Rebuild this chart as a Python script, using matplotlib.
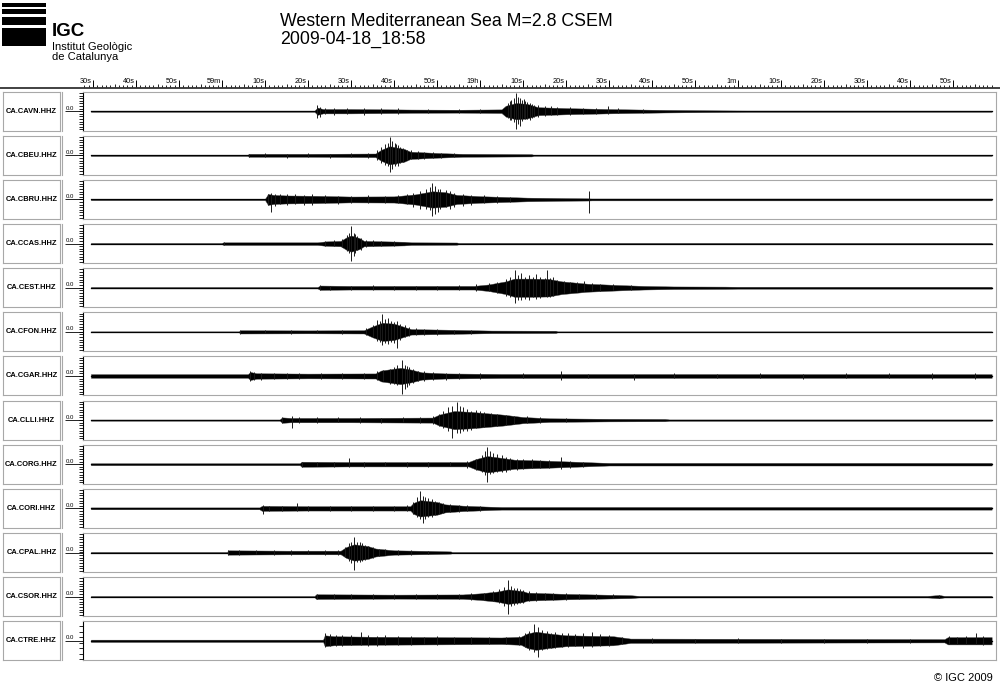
import matplotlib
matplotlib.use("Agg")
import matplotlib.pyplot as plt
from matplotlib.patches import Rectangle
from matplotlib.lines import Line2D
import numpy as np

plt.rcParams['font.family'] = ['Liberation Sans', 'DejaVu Sans']

# time in seconds after 18:58:00
title = "Western Mediterranean Sea M=2.8 CSEM"
subtitle = "2009-04-18_18:58"
tick_times = list(range(30, 231, 10))
tick_labels = ['30s', '40s', '50s', '59m', '10s', '20s', '30s', '40s', '50s', '19h',
               '10s', '20s', '30s', '40s', '50s', '1m', '10s', '20s', '30s', '40s', '50s']

stations = ['CA.CAVN.HHZ', 'CA.CBEU.HHZ', 'CA.CBRU.HHZ', 'CA.CCAS.HHZ', 'CA.CEST.HHZ',
            'CA.CFON.HHZ', 'CA.CGAR.HHZ', 'CA.CLLI.HHZ', 'CA.CORG.HHZ', 'CA.CORI.HHZ',
            'CA.CPAL.HHZ', 'CA.CSOR.HHZ', 'CA.CTRE.HHZ']

# envelope (time, relative amplitude)
env_cavn = [(29.5, .03), (81.5, .03), (82.2, .2), (83.5, .12), (90, .12), (100, .1), (104, .09),
            (115, .08), (125, .1), (126, .3), (128.4, .45), (131, .4), (133.5, .22), (140, .17),
            (149.7, .12), (155, .1), (163, .07), (172, .05), (182, .035), (239, .03)]
env_cbeu = [(29.5, .03), (66, .03), (66.2, .08), (80, .08), (95.7, .1), (97, .3), (99, .5),
            (102.4, .35), (103.8, .2), (110, .13), (116, .08), (132, .06), (132.5, .025), (239, .025)]
env_cbru = [(29.5, .035), (70, .035), (70.7, .3), (72, .25), (75, .22), (82, .2), (90, .16),
            (100, .17), (105, .28), (108.9, .45), (112, .4), (114.6, .25), (120, .18), (131, .1),
            (140, .07), (145, .06), (146, .05), (239, .05)]
env_ccas = [(29.5, .03), (59.9, .03), (60.3, .07), (82.2, .07), (84, .12), (87.6, .15), (89, .35),
            (90, .45), (92, .3), (93, .15), (102.4, .1), (104, .07), (114.6, .06), (115, .035), (239, .035)]
env_cest = [(29.5, .035), (82.2, .035), (82.8, .12), (90, .1), (118.6, .1), (122, .18), (126, .35),
            (128, .5), (132, .5), (136, .48), (139, .35), (145, .22), (152, .15), (158, .1),
            (165, .07), (177, .06), (180, .05), (239, .05)]
env_cfon = [(29.5, .025), (63.9, .025), (64.3, .09), (80, .08), (93, .09), (95, .3), (97.3, .5),
            (100, .45), (102, .3), (104, .15), (112, .12), (122.7, .07), (137.6, .06), (138, .025), (239, .025)]
env_cgar = [(29.5, .1), (66, .1), (66.6, .22), (68, .15), (80, .13), (95.7, .14), (97, .3),
            (101.5, .45), (104, .35), (106.5, .2), (112, .14), (125, .11), (239, .1)]
env_clli = [(29.5, .03), (73.4, .03), (74, .15), (76, .12), (90, .12), (109, .14), (110.5, .3),
            (114, .5), (118, .45), (125.4, .3), (130, .17), (136.2, .1), (150, .07), (163, .06),
            (164, .035), (239, .035)]
env_corg = [(29.5, .05), (78.1, .05), (78.5, .14), (90, .12), (117.3, .12), (119, .28), (121.7, .45),
            (125, .35), (128, .25), (135, .2), (144.3, .12), (150, .07), (239, .07)]
env_cori = [(29.5, .05), (68.7, .05), (69.3, .14), (80, .12), (103.8, .12), (104.5, .3), (106.1, .45),
            (110, .35), (111.9, .22), (116, .15), (121.4, .1), (125, .07), (239, .07)]
env_cpal = [(29.5, .025), (61.2, .025), (61.4, .12), (75, .1), (87.6, .1), (88.9, .3), (90.7, .45),
            (94, .35), (95.7, .22), (100, .12), (108, .09), (113.2, .06), (113.5, .025), (239, .025)]
env_csor = [(29.5, .03), (81.5, .03), (81.9, .13), (100, .11), (116, .12), (120, .18), (124, .28),
            (126.5, .4), (130, .3), (131, .22), (140, .15), (155, .08), (157, .04), (224, .04),
            (226.8, .09), (228, .04), (239, .04)]
env_ctre = [(29.5, .06), (83.5, .06), (83.9, .3), (86, .25), (95, .22), (110, .2), (125, .18),
            (129.5, .22), (131, .4), (133, .5), (136, .4), (140, .3), (151, .25), (155, .12),
            (200, .1), (228, .09), (228.8, .2), (239, .2)]

# visible peaks (time, top, bottom)
spk_cavn = [(82.2, .35, .35), (82.8, .25, .3), (84, .2, .15), (86, .18, .2), (89, .2, .15), (93, .15, .2),
            (97, .18, .15), (101, .15, .15), (108, .12, .12), (115, .12, .1), (120, .13, .12),
            (126.5, .45, .4), (127, .55, .5), (127.3, .6, .5), (127.8, .7, .6), (128.4, 1.0, .96),
            (128.9, .8, .7), (129.2, .7, .8), (129.7, .6, .55), (130.2, .65, .4), (130.5, .55, .45),
            (131, .5, .45), (131.6, .45, .5), (132, .4, .35), (132.5, .35, .3), (133.5, .35, .3),
            (135, .3, .25), (136.5, .3, .2), (138, .25, .2), (141, .22, .2), (144, .2, .15),
            (147, .18, .15), (149.7, .3, .15), (152, .15, .12), (158, .12, .1)]
spk_cbeu = [(66.2, .1, .1), (70, .12, .1), (75, .1, .12), (80, .12, .1), (85, .1, .12), (90, .12, .1),
            (94, .15, .12), (96, .3, .25), (97, .45, .4), (97.8, .6, .55), (98.5, .7, .6), (99, .98, .91),
            (99.6, .8, .75), (100.2, .65, .6), (100.5, .6, .5), (101, .55, .6), (101.5, .45, .4),
            (102.2, .4, .35), (103, .3, .25), (104, .3, .2), (105.5, .25, .2), (107, .2, .2),
            (109, .2, .15), (111, .15, .15), (114, .12, .1)]
spk_cbru = [(70.7, .3, .3), (71.5, .34, .68), (72.3, .3, .35), (73.5, .3, .25), (75, .28, .3),
            (77, .3, .25), (79, .25, .3), (81, .3, .28), (84, .25, .2), (87, .2, .25), (90, .2, .2),
            (94, .22, .18), (98, .2, .2), (101, .25, .2), (103, .3, .25), (104.5, .35, .4), (106, .45, .5),
            (107.5, .6, .55), (108.3, .7, .6), (108.9, .92, .93), (109.5, .75, .8), (110.2, .6, .7),
            (110.8, .55, .5), (112, .5, .4), (113, .45, .5), (114, .35, .4), (116, .3, .35),
            (118, .25, .3), (121, .25, .2), (124, .2, .18), (127, .15, .15), (145.3, .49, .76)]
spk_ccas = [(60.5, .08, .08), (84, .15, .12), (86, .18, .15), (88, .25, .2), (89, .45, .4), (89.5, .6, .5),
            (90, .97, .95), (90.6, .6, .7), (91, .5, .5), (91.5, .4, .35), (92.3, .3, .35),
            (93.5, .2, .2), (95, .18, .15), (97, .15, .15), (100, .12, .12)]
spk_cest = [(82.8, .13, .12), (85, .12, .15), (90, .12, .1), (95, .13, .1), (100, .1, .12), (105, .12, .1),
            (110, .12, .12), (115, .13, .12), (119, .18, .2), (122, .25, .2), (124, .3, .3), (126, .5, .45),
            (127, .6, .5), (128.1, .95, .85), (128.8, .7, .65), (129.5, .8, .7), (130.5, .6, .6),
            (131.5, .7, .68), (132.3, .6, .5), (133, .75, .6), (134, .6, .55), (135, .55, .45),
            (135.5, .95, .5), (136.3, .55, .5), (137, .6, .45), (138, .45, .35), (139.5, .35, .3),
            (141, .3, .25), (142.5, .3, .25), (144.3, .37, .2), (146, .25, .2), (148, .22, .2),
            (151, .2, .15), (155, .15, .12)]
spk_cfon = [(64.3, .1, .1), (70, .1, .08), (76, .1, .1), (82, .1, .08), (88, .1, .1), (93.5, .2, .15),
            (95, .35, .3), (96, .65, .5), (96.7, .6, .55), (97.3, .96, .7), (98, .7, .6), (98.5, .75, .65),
            (99.3, .6, .55), (100, .55, .6), (100.6, .6, .88), (101.5, .45, .45), (102.5, .35, .3),
            (103.5, .25, .25), (105, .2, .2), (107, .18, .15), (110, .15, .15), (114, .12, .12), (118, .1, .1)]
spk_cgar = [(66.6, .26, .26), (67.5, .2, .22), (69, .18, .2), (72, .18, .15), (75, .16, .18), (78, .15, .17),
            (83, .17, .15), (88, .16, .15), (93, .17, .15), (96, .25, .2), (97.5, .35, .3), (99, .4, .45),
            (100, .5, .45), (100.8, .6, .5), (101.8, .86, 1.0), (102.5, .6, .7), (103, .55, .6),
            (103.5, .5, .5), (104.5, .4, .4), (105.5, .3, .3), (107, .25, .25), (109, .2, .2),
            (112, .18, .2), (115, .18, .15), (120, .15, .15), (130, .14, .13), (138.9, .25, .2),
            (145, .13, .12), (155.8, .13, .22), (165, .14, .12), (175, .13, .13), (185, .15, .12),
            (195, .13, .14), (205, .14, .12), (215, .15, .13), (225, .14, .14), (235, .15, .15)]
spk_clli = [(74, .18, .15), (76.3, .2, .45), (78, .18, .15), (82, .15, .15), (87, .15, .12), (92, .15, .15),
            (97, .14, .15), (102, .15, .13), (106, .17, .15), (109, .22, .2), (110.5, .35, .3),
            (111.5, .5, .45), (112.5, .7, .6), (113.5, .8, .97), (114.6, .97, .7), (115.3, .75, .7),
            (116, .7, .6), (117, .6, .6), (118, .5, .55), (119, .55, .45), (120, .5, .4), (121, .45, .4),
            (122.5, .4, .35), (124, .35, .3), (126, .3, .25), (128, .25, .2), (131, .2, .18),
            (134, .15, .15), (140, .1, .1)]
spk_corg = [(78.5, .15, .15), (82, .14, .12), (86, .15, .13), (89.6, .36, .15), (93, .15, .15), (98, .14, .12),
            (103, .15, .13), (108, .13, .14), (113, .15, .12), (117, .2, .18), (119, .3, .3),
            (120.5, .5, .45), (121.2, .7, .6), (121.7, .97, .95), (122.3, .75, .55), (123, .6, .5),
            (124, .55, .45), (125, .5, .4), (126, .4, .4), (127, .35, .3), (128.5, .3, .3), (130, .3, .25),
            (132, .28, .22), (134, .25, .22), (136, .25, .2), (138.9, .4, .25), (141, .2, .18), (144, .15, .15)]
spk_cori = [(69.5, .2, .3), (71, .15, .15), (74, .14, .12), (77.4, .3, .12), (80, .15, .13), (85, .13, .13),
            (90, .14, .12), (95, .13, .13), (100, .14, .12), (103, .18, .15), (104.5, .35, .3),
            (105.3, .6, .5), (106, .95, .6), (106.7, .7, .83), (107.3, .6, .6), (108, .55, .5),
            (108.8, .5, .45), (109.5, .4, .35), (110.5, .35, .3), (111.5, .3, .28), (113, .25, .22),
            (115, .2, .2), (117, .18, .15), (120, .15, .12)]
spk_cpal = [(61.5, .15, .13), (64, .12, .12), (68, .12, .1), (72, .12, .12), (76, .11, .12), (80, .12, .1),
            (84, .12, .12), (87, .15, .13), (88.5, .3, .25), (89.5, .5, .45), (90.1, .6, .55),
            (90.7, .85, .97), (91.3, .6, .5), (92, .55, .5), (92.5, .5, .45), (93.2, .4, .4), (94, .35, .3),
            (95, .3, .3), (96.5, .2, .2), (98, .18, .15), (101, .15, .13), (104, .12, .12), (108, .1, .1)]
spk_csor = [(82, .15, .14), (86, .13, .12), (90, .12, .14), (95, .13, .12), (100, .12, .13), (105, .13, .12),
            (110, .14, .13), (115, .14, .14), (118, .2, .18), (121, .22, .2), (123, .3, .25),
            (124.5, .4, .35), (125.5, .55, .5), (126.5, .93, .97), (127.2, .6, .5), (128, .5, .45),
            (128.5, .45, .4), (129.3, .4, .35), (130, .35, .35), (131.5, .3, .25), (133, .25, .22),
            (135, .22, .2), (137, .2, .18), (140, .18, .18), (143, .16, .15), (147, .14, .12),
            (151, .12, .1), (226.8, .1, .1)]
spk_ctre = [(84, .45, .35), (85, .35, .3), (86.5, .3, .3), (88, .32, .28), (90, .3, .25), (92.3, .47, .25),
            (94, .3, .28), (96, .28, .3), (98, .3, .25), (101, .25, .22), (104, .25, .25), (107, .22, .2),
            (110, .25, .22), (114, .22, .2), (118, .22, .2), (122, .2, .2), (126, .22, .2), (129, .28, .25),
            (130.5, .4, .35), (131.5, .55, .5), (132.6, .93, .6), (133.5, .75, .88), (134.5, .6, .5),
            (135.5, .55, .45), (136.5, .45, .4), (137.5, .5, .4), (139, .4, .35), (140.5, .4, .35),
            (142, .35, .3), (144, .45, .4), (146, .5, .35), (148, .35, .3), (150, .3, .3), (153, .2, .18),
            (160, .15, .12), (170, .12, .12), (180, .13, .1), (190, .12, .12), (200, .12, .1),
            (210, .11, .1), (220, .12, .1), (229, .25, .2), (231, .22, .2), (233, .25, .2),
            (235.4, .42, .2), (237, .25, .22)]

envelopes = [env_cavn, env_cbeu, env_cbru, env_ccas, env_cest, env_cfon, env_cgar,
             env_clli, env_corg, env_cori, env_cpal, env_csor, env_ctre]
spikes = [spk_cavn, spk_cbeu, spk_cbru, spk_ccas, spk_cest, spk_cfon, spk_cgar,
          spk_clli, spk_corg, spk_cori, spk_cpal, spk_csor, spk_ctre]

W, H = 1000, 685
fig = plt.figure(figsize=(W / 100, H / 100), dpi=100)


def fx(px):
    return px / W


def fy(py):
    return 1 - py / H


# logo
for y0, y1 in [(3, 7), (9, 14), (17, 25), (28, 46)]:
    fig.add_artist(Rectangle((fx(2), fy(y1)), fx(44), (y1 - y0) / H, color='black', lw=0))
fig.text(fx(52), fy(36), 'IGC', fontsize=13.5, fontweight='bold', va='baseline')
fig.text(fx(52), fy(49.5), 'Institut Geològic', fontsize=8, va='baseline')
fig.text(fx(52), fy(60.5), 'de Catalunya', fontsize=8, va='baseline')
fig.text(fx(280), fy(26), title, fontsize=12.8, va='baseline')
fig.text(fx(280), fy(44), subtitle, fontsize=12.8, va='baseline')
fig.text(fx(993), fy(681), '\u00a9 IGC 2009', fontsize=8, ha='right', va='baseline')

x0, x1 = 83, 996
tmin = 30 + (x0 - 93) / 4.3
tmax = 30 + (x1 - 93) / 4.3

# time ruler
rax = fig.add_axes([fx(x0), fy(87.5), fx(x1 - x0), 12 / H])
rax.set_xlim(tmin, tmax)
rax.set_ylim(0, 12)
rax.axis('off')
sec = np.arange(28, 240)
rax.vlines(sec, 0, np.where(sec % 5 == 0, 3.8, 2.2), color='black', lw=0.6)
rax.vlines(tick_times, 0, 8, color='black', lw=0.7)
for t, lab in zip(tick_times, tick_labels):
    rax.text(t - 0.25, 6, lab, fontsize=5.3, ha='right', va='center')
fig.add_artist(Line2D([0, 1], [fy(87.5), fy(87.5)], color='#333333', lw=1.3))

top0, step, h = 91.7, 44.13, 39
for i, name in enumerate(stations):
    top = top0 + i * step
    # station label box
    lab = fig.add_axes([fx(3), fy(top + h), fx(57), h / H])
    lab.set_xticks([])
    lab.set_yticks([])
    for s in lab.spines.values():
        s.set_color('#a8a8a8')
    lab.text(0.5, 0.5, name, fontsize=5.4, fontweight='bold', ha='center', va='center',
             transform=lab.transAxes)
    fig.add_artist(Line2D([fx(62), fx(62)], [fy(top), fy(top + h)], color='#a8a8a8', lw=0.8))

    ax = fig.add_axes([fx(x0), fy(top + h), fx(x1 - x0), h / H])
    ax.set_xlim(tmin, tmax)
    ax.set_ylim(-1.07, 1.07)
    for s in ['top', 'right', 'bottom']:
        ax.spines[s].set_color('#a8a8a8')
    ax.spines['left'].set_color('black')
    ax.spines['left'].set_linewidth(0.8)
    ax.set_xticks([])
    ax.set_yticks([0])
    ax.set_yticklabels([''])
    ax.tick_params(axis='y', which='major', length=13, width=0.6)
    minor = np.arange(-1.0, 1.01, 0.3 if i == len(stations) - 1 else 0.143)
    ax.set_yticks(minor, minor=True)
    ax.tick_params(axis='y', which='minor', length=3, width=0.6)
    ax.annotate('0.0', xy=(0, 0), xycoords=('axes fraction', 'data'), xytext=(-12.5, 0.4),
                textcoords='offset points', fontsize=4.3, ha='left', va='bottom')

    et = np.array([p[0] for p in envelopes[i]])
    ea = np.array([p[1] for p in envelopes[i]])
    ax.fill_between(et, -ea, ea, color='black', lw=0.3, edgecolor='#444444')
    ax.plot([et[0], et[-1]], [0, 0], color='black', lw=0.9)
    st = [p[0] for p in spikes[i]]
    su = [p[1] for p in spikes[i]]
    sd = [-p[2] for p in spikes[i]]
    ax.vlines(st, sd, su, color='#1a1a1a', lw=0.7)

fig.savefig('out.png', dpi=100)
